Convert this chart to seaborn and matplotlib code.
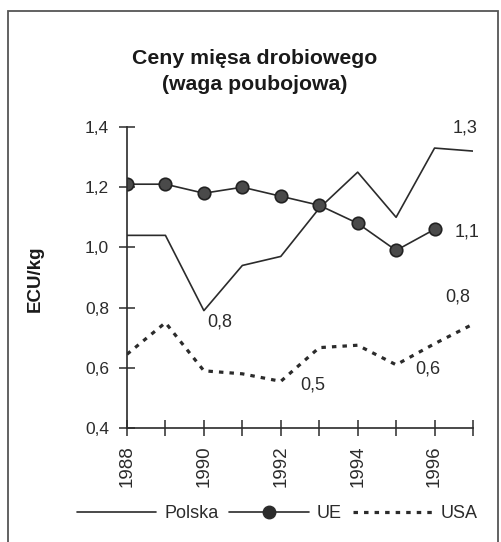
import matplotlib
matplotlib.use("Agg")
import matplotlib.pyplot as plt
import seaborn as sns
import pandas as pd
from matplotlib.lines import Line2D
from matplotlib.patches import Rectangle

# data
years = [1988, 1989, 1990, 1991, 1992, 1993, 1994, 1995, 1996, 1997]
polska = [1.04, 1.04, 0.79, 0.94, 0.97, 1.13, 1.25, 1.10, 1.33, 1.32]
ue_years = [1988, 1989, 1990, 1991, 1992, 1993, 1994, 1995, 1996]
ue = [1.21, 1.21, 1.18, 1.20, 1.17, 1.14, 1.08, 0.99, 1.06]
usa = [0.645, 0.75, 0.59, 0.58, 0.555, 0.667, 0.675, 0.61, 0.68, 0.745]

y_ticks = [0.4, 0.6, 0.8, 1.0, 1.2, 1.4]
y_labels = ["0,4", "0,6", "0,8", "1,0", "1,2", "1,4"]
x_labels = ["1988", "", "1990", "", "1992", "", "1994", "", "1996", ""]

notes = ["1,3", "1,1", "0,8", "0,8", "0,5", "0,6"]
note_x = [1996.79, 1996.85, 1990.42, 1996.61, 1992.84, 1995.83]
note_y = [1.397, 1.051, 0.752, 0.835, 0.543, 0.596]

sns.set_style("white")
plt.rcParams["font.family"] = ["Liberation Sans", "DejaVu Sans"]

ink = "#2b2b2b"

fig = plt.figure(figsize=(5.01, 5.42), dpi=100)
ax = fig.add_axes([127 / 501, 1 - 428 / 542, (473 - 127) / 501, (428 - 127) / 542])

df_pl = pd.DataFrame({"rok": years, "cena": polska})
df_ue = pd.DataFrame({"rok": ue_years, "cena": ue})
df_us = pd.DataFrame({"rok": years, "cena": usa})

sns.lineplot(data=df_pl, x="rok", y="cena", ax=ax, color=ink, lw=1.2)
sns.lineplot(data=df_ue, x="rok", y="cena", ax=ax, color=ink, lw=1.2,
             marker="o", markersize=9, markerfacecolor="#4a4a4a",
             markeredgecolor="#222222", markeredgewidth=1.2)
sns.lineplot(data=df_us, x="rok", y="cena", ax=ax, color=ink, lw=2.3,
             linestyle=(0, (1.4, 1.9)))

ax.set_xlim(1988, 1997)
ax.set_ylim(0.4, 1.4)
ax.set_xticks(years)
ax.set_xticklabels(x_labels, rotation=90, fontsize=13.5, color=ink)
ax.set_yticks(y_ticks)
ax.set_yticklabels(y_labels, fontsize=12.5, color=ink)
ax.tick_params(axis="x", bottom=True, direction="inout", length=11, width=1.1,
               color=ink, pad=7)
ax.tick_params(axis="y", left=True, direction="inout", length=12, width=1.1,
               color=ink, pad=7)
ax.set_xlabel("")
ax.set_ylabel("")
sns.despine(ax=ax)
for s in ["left", "bottom"]:
    ax.spines[s].set_color(ink)
    ax.spines[s].set_linewidth(1.2)

for t, x, y in zip(notes, note_x, note_y):
    ax.text(x, y, t, ha="center", va="center", fontsize=13, color=ink, clip_on=False)

fig.text(255 / 501, 1 - 58 / 542, "Ceny mięsa drobiowego", ha="center", va="center",
         fontsize=15.3, fontweight="bold", color="#1a1a1a")
fig.text(255 / 501, 1 - 85 / 542, "(waga poubojowa)", ha="center", va="center",
         fontsize=15.3, fontweight="bold", color="#1a1a1a")
fig.text(35 / 501, 1 - 279 / 542, "ECU/kg", rotation=90, ha="center", va="center",
         fontsize=13.5, fontweight="bold", color="#1a1a1a")

handles = [
    Line2D([], [], color=ink, lw=1.2),
    Line2D([], [], color=ink, lw=1.2, marker="o", markersize=9,
           markerfacecolor="#2b2b2b", markeredgecolor="#2b2b2b"),
    Line2D([], [], color=ink, lw=2.3, linestyle=(0, (1.4, 1.9))),
]
fig.legend(handles, ["Polska", "UE", "USA"], loc="center",
           bbox_to_anchor=(277 / 501, 1 - 514 / 542), ncol=3, frameon=False,
           fontsize=13, handlelength=4.4, handletextpad=0.45, columnspacing=0.6,
           labelcolor=ink)

fig.patches.append(Rectangle((8 / 501, -0.05), (498 - 8) / 501, 1.05 - 11 / 542,
                             transform=fig.transFigure, fill=False, lw=1.3,
                             ec="#555555"))

fig.savefig("out.png", dpi=100)
